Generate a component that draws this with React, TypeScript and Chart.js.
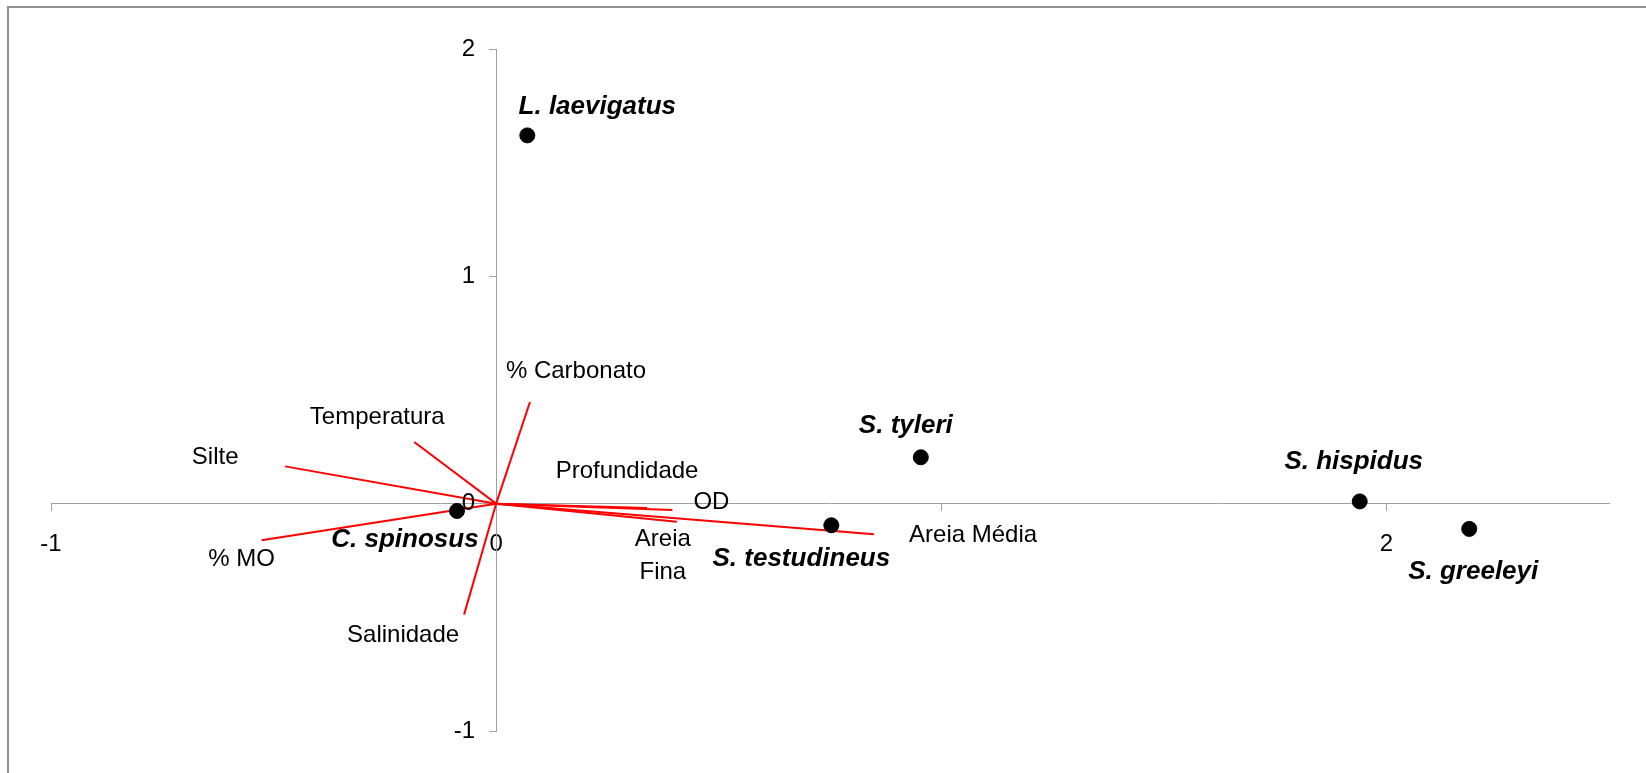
import React, { useEffect, useRef } from 'react';
import { Chart, registerables } from 'chart.js';

Chart.register(...registerables);

// ---- Data ----
const speciesNames = ['L. laevigatus', 'C. spinosus', 'S. tyleri', 'S. testudineus', 'S. hispidus', 'S. greeleyi'];
const speciesX = [0.07, -0.088, 0.954, 0.753, 1.94, 2.186];
const speciesY = [1.62, -0.032, 0.204, -0.095, 0.01, -0.111];

const envNames = ['% Carbonato', 'Temperatura', 'Silte', '% MO', 'Salinidade', 'Profundidade', 'OD', 'Areia\nFina', 'Areia Média'];
const envX = [0.076, -0.184, -0.474, -0.527, -0.072, 0.339, 0.396, 0.406, 0.849];
const envY = [0.447, 0.271, 0.164, -0.161, -0.488, -0.019, -0.028, -0.08, -0.135];

const xTickValues = [-1, 0, 1, 2];
const xTickLabels = ['-1', '0', '', '2'];
const yTickValues = [-1, 0, 1, 2];
const yTickLabels = ['-1', '0', '1', '2'];

// ---- Layout / style (label offsets in pixels from the mark) ----
const speciesLabelOffsets: [number, number][] = [[70, -29], [-52, 29], [-15, -31], [-30, 34], [-6, -40], [4, 43]];
const envLabelOffsets: [number, number][] = [[46, -31], [-37, -25], [-70, -9], [-20, 19], [-61, 21], [-20, -37], [39, -8], [-14, 34], [99, 1]];

const FONT = '"Liberation Sans", Arial, Helvetica, sans-serif';
const AXIS_COLOR = '#a0a0a0';
const TICK_LEN = 7;
const Y_LABEL_GAP = 14;

const overlayPlugin = {
  id: 'overlay',
  beforeDraw(chart: any) {
    const { ctx, width, height } = chart;
    ctx.save();
    ctx.fillStyle = '#ffffff';
    ctx.fillRect(0, 0, width, height);
    ctx.strokeStyle = '#909090';
    ctx.lineWidth = 2;
    ctx.beginPath();
    ctx.moveTo(8, height + 5);
    ctx.lineTo(8, 7);
    ctx.lineTo(width + 5, 7);
    ctx.stroke();
    ctx.restore();
  },
  afterDraw(chart: any) {
    // y-axis tick labels, placed to the left of the crossing axis
    const { ctx } = chart;
    const xs = chart.scales.x;
    const ys = chart.scales.y;
    const axisX = xs.getPixelForValue(0);
    ctx.save();
    ctx.fillStyle = '#000000';
    ctx.font = `normal 24px ${FONT}`;
    ctx.textAlign = 'right';
    ctx.textBaseline = 'middle';
    ys.ticks.forEach((t: any, i: number) => {
      ctx.fillText(yTickLabels[i], axisX - TICK_LEN - Y_LABEL_GAP, ys.getPixelForValue(t.value));
    });
    ctx.restore();
  },
  afterDatasetsDraw(chart: any) {
    const { ctx } = chart;
    const xs = chart.scales.x;
    const ys = chart.scales.y;
    ctx.save();
    ctx.fillStyle = '#000000';
    ctx.textAlign = 'center';
    ctx.textBaseline = 'middle';
    ctx.font = `normal 24px ${FONT}`;
    envNames.forEach((name, i) => {
      const px = xs.getPixelForValue(envX[i]) + envLabelOffsets[i][0];
      const py = ys.getPixelForValue(envY[i]) + envLabelOffsets[i][1];
      const lines = name.split('\n');
      const lh = 33;
      lines.forEach((ln, j) => {
        ctx.fillText(ln, px, py + (j - (lines.length - 1) / 2) * lh);
      });
    });
    ctx.font = `italic bold 26px ${FONT}`;
    speciesNames.forEach((name, i) => {
      const px = xs.getPixelForValue(speciesX[i]) + speciesLabelOffsets[i][0];
      const py = ys.getPixelForValue(speciesY[i]) + speciesLabelOffsets[i][1];
      ctx.fillText(name, px, py);
    });
    ctx.restore();
  },
};

export default function App() {
  const canvasRef = useRef<HTMLCanvasElement | null>(null);

  useEffect(() => {
    if (!canvasRef.current) return;
    const vectorDatasets = envNames.map((name, i) => ({
      type: 'line' as const,
      label: name,
      data: [{ x: 0, y: 0 }, { x: envX[i], y: envY[i] }],
      borderColor: '#ff0000',
      borderWidth: 2,
      pointRadius: 0,
      showLine: true,
      fill: false,
      order: 2,
    }));
    const chart = new Chart(canvasRef.current, {
      type: 'scatter',
      data: {
        datasets: [
          {
            label: 'species',
            data: speciesX.map((x, i) => ({ x, y: speciesY[i] })),
            backgroundColor: '#000000',
            borderColor: '#000000',
            pointRadius: 7.5,
            pointHoverRadius: 7.5,
            order: 0,
          } as any,
          ...vectorDatasets,
        ],
      },
      options: {
        animation: false,
        responsive: true,
        maintainAspectRatio: false,
        devicePixelRatio: 1,
        layout: { padding: { left: 51, right: 37, top: 49, bottom: 42 } },
        plugins: { legend: { display: false }, tooltip: { enabled: false } },
        events: [],
        scales: {
          x: {
            type: 'linear',
            min: -1,
            max: 2.5,
            position: { y: 0 } as any,
            afterBuildTicks: (s: any) => {
              s.ticks = xTickValues.map((v) => ({ value: v }));
            },
            grid: { drawOnChartArea: false, drawTicks: true, tickLength: TICK_LEN, color: AXIS_COLOR, tickColor: AXIS_COLOR },
            border: { display: true, color: AXIS_COLOR, width: 1 },
            ticks: {
              autoSkip: false,
              maxRotation: 0,
              padding: 19,
              color: '#000000',
              font: { family: FONT, size: 24 },
              callback: (_v: any, idx: number) => xTickLabels[idx],
            },
          },
          y: {
            type: 'linear',
            min: -1,
            max: 2,
            position: { x: 0 } as any,
            afterBuildTicks: (s: any) => {
              s.ticks = yTickValues.map((v) => ({ value: v }));
            },
            grid: { drawOnChartArea: false, drawTicks: true, tickLength: TICK_LEN, color: AXIS_COLOR, tickColor: AXIS_COLOR },
            border: { display: true, color: AXIS_COLOR, width: 1 },
            ticks: {
              display: false,
              autoSkip: false,
              color: '#000000',
              font: { family: FONT, size: 24 },
              callback: (_v: any, idx: number) => yTickLabels[idx],
            },
          },
        },
      },
      plugins: [overlayPlugin],
    });
    return () => chart.destroy();
  }, []);

  return (
    <div style={{ position: 'fixed', left: 0, top: 0, width: 1646, height: 773, background: '#fff' }}>
      <canvas ref={canvasRef} />
    </div>
  );
}
